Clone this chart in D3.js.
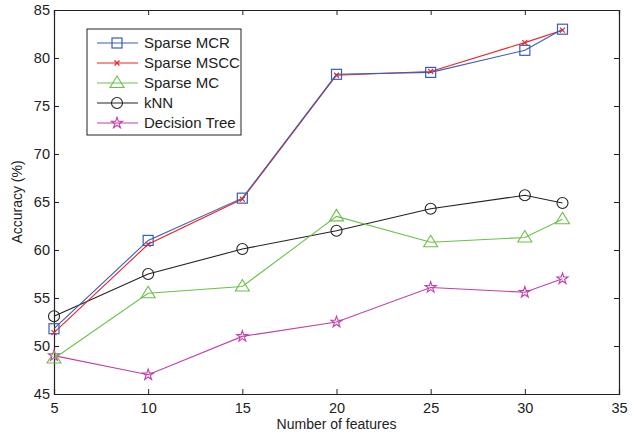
<!DOCTYPE html>
<html>
<head>
<meta charset="utf-8">
<script src="https://cdn.jsdelivr.net/npm/d3@7"></script>
<style>
  body { margin: 0; background: #fff; }
  text { font-family: "Liberation Sans", Arial, sans-serif; }
</style>
</head>
<body>
<svg id="canvas" width="637" height="434"></svg>
<script>
// data
const features = [5, 10, 15, 20, 25, 30, 32];
const sparseMCR = [51.8, 61.0, 65.4, 78.3, 78.5, 80.8, 83.0];
const sparseMSCC = [51.4, 60.6, 65.3, 78.2, 78.6, 81.6, 82.9];
const sparseMC = [48.7, 55.5, 56.2, 63.5, 60.8, 61.3, 63.2];
const knn = [53.1, 57.5, 60.1, 62.0, 64.3, 65.7, 64.9];
const decisionTree = [49.0, 47.0, 51.0, 52.5, 56.1, 55.6, 57.0];
const xTicks = [5, 10, 15, 20, 25, 30, 35];
const yTicks = [45, 50, 55, 60, 65, 70, 75, 80, 85];

const series = [
    {name: "Sparse MCR", values: sparseMCR, color: "#3a5db5", marker: "square"},
    {name: "Sparse MSCC", values: sparseMSCC, color: "#ee2222", marker: "x"},
    {name: "Sparse MC", values: sparseMC, color: "#6cc04a", marker: "triangle"},
    {name: "kNN", values: knn, color: "#222222", marker: "circle"},
    {name: "Decision Tree", values: decisionTree, color: "#c040a8", marker: "star"}
];

const svg = d3.select('#canvas');
const plotLeft = 54, plotRight = 619, plotTop = 10, plotBottom = 394;

const x = d3.scaleLinear().domain([5, 35]).range([plotLeft, plotRight]);
const y = d3.scaleLinear().domain([45, 85]).range([plotBottom, plotTop]);

// axes, ticks pointing inward on all four sides
const tick = 5;
svg.append('g').attr('transform', `translate(0,${plotBottom})`)
    .call(d3.axisBottom(x).tickValues(xTicks).tickSize(-tick).tickPadding(9).tickFormat(d3.format('d')));
svg.append('g').attr('transform', `translate(0,${plotTop})`)
    .call(d3.axisTop(x).tickValues(xTicks).tickSize(-tick).tickFormat(''));
svg.append('g').attr('transform', `translate(${plotLeft},0)`)
    .call(d3.axisLeft(y).tickValues(yTicks).tickSize(-tick).tickPadding(4).tickFormat(d3.format('d')));
svg.append('g').attr('transform', `translate(${plotRight},0)`)
    .call(d3.axisRight(y).tickValues(yTicks).tickSize(-tick).tickFormat(''));

svg.selectAll('.domain').attr('stroke', '#222').attr('stroke-width', 1.2);
svg.selectAll('.tick line').attr('stroke', '#222');
svg.selectAll('.tick text').attr('font-size', 14.5).attr('fill', '#222')
    .attr('font-family', '"Liberation Sans", Arial, sans-serif');

// axis titles
svg.append('text').attr('x', (plotLeft + plotRight) / 2).attr('y', 429)
    .attr('text-anchor', 'middle').attr('font-size', 14).attr('fill', '#222')
    .text('Number of features');
svg.append('text')
    .attr('transform', `translate(22,${(plotTop + plotBottom) / 2}) rotate(-90)`)
    .attr('text-anchor', 'middle').attr('font-size', 14).attr('fill', '#222')
    .text('Accuracy (%)');

function drawMarker(g, kind, cx, cy, color) {
    if (kind === 'square') {
        g.append('rect').attr('x', cx - 5).attr('y', cy - 5).attr('width', 10).attr('height', 10)
            .attr('fill', 'none').attr('stroke', color).attr('stroke-width', 1.2);
    } else if (kind === 'x') {
        g.append('path').attr('d', `M${cx - 2.5},${cy - 2.5}L${cx + 2.5},${cy + 2.5}M${cx - 2.5},${cy + 2.5}L${cx + 2.5},${cy - 2.5}`)
            .attr('stroke', color).attr('stroke-width', 1.2);
    } else if (kind === 'triangle') {
        g.append('path').attr('d', `M${cx},${cy - 7}L${cx + 7},${cy + 4.5}L${cx - 7},${cy + 4.5}Z`)
            .attr('fill', 'none').attr('stroke', color).attr('stroke-width', 1.1);
    } else if (kind === 'circle') {
        g.append('circle').attr('cx', cx).attr('cy', cy).attr('r', 5.5)
            .attr('fill', 'none').attr('stroke', color).attr('stroke-width', 1.1);
    } else if (kind === 'star') {
        const sym = d3.symbol().type(d3.symbolStar).size(38);
        g.append('path').attr('d', sym()).attr('transform', `translate(${cx},${cy})`)
            .attr('fill', 'none').attr('stroke', color).attr('stroke-width', 1.1);
    }
}

const line = d3.line().x(d => x(d[0])).y(d => y(d[1]));

// draw in reverse so that Sparse MCR / MSCC sit on top
series.slice().reverse().forEach(s => {
    const g = svg.append('g');
    const pts = features.map((f, i) => [f, s.values[i]]);
    g.append('path').datum(pts).attr('d', line)
        .attr('fill', 'none').attr('stroke', s.color).attr('stroke-width', 1.1);
    pts.forEach(p => drawMarker(g, s.marker, x(p[0]), y(p[1]), s.color));
});

// legend
const legend = svg.append('g');
legend.append('rect').attr('x', 87).attr('y', 29).attr('width', 154).attr('height', 106)
    .attr('fill', '#fff').attr('stroke', '#222').attr('stroke-width', 1);
series.forEach((s, i) => {
    const ly = 43 + i * 20;
    legend.append('line').attr('x1', 97).attr('x2', 138).attr('y1', ly).attr('y2', ly)
        .attr('stroke', s.color).attr('stroke-width', 1.1);
    drawMarker(legend, s.marker, 117, ly, s.color);
    legend.append('text').attr('x', 144).attr('y', ly + 5).attr('font-size', 15)
        .attr('fill', '#222').text(s.name);
});
</script>
</body>
</html>
